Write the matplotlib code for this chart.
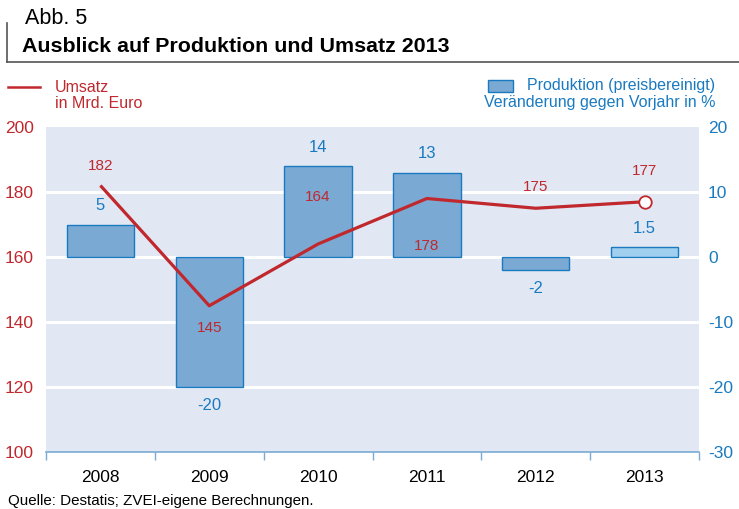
import matplotlib
matplotlib.use("Agg")
import matplotlib.pyplot as plt
from matplotlib.lines import Line2D
from matplotlib.patches import Rectangle

plt.rcParams['font.family'] = ['Liberation Sans', 'DejaVu Sans']

years = ["2008", "2009", "2010", "2011", "2012", "2013"]
umsatz = [182, 145, 164, 178, 175, 177]
produktion = [5, -20, 14, 13, -2, 1.5]
umsatz_labels = ["182", "145", "164", "178", "175", "177"]
prod_labels = ["5", "-20", "14", "13", "-2", "1.5"]
left_ticks = [100, 120, 140, 160, 180, 200]
right_ticks = [-30, -20, -10, 0, 10, 20]

RED = "#c0282d"
BLUE = "#1a7ac0"
BAR = "#7aaad4"
BAR_LIGHT = "#a0cfef"
BG = "#e1e8f4"

fig = plt.figure(figsize=(7.39, 5.09), dpi=100)
ax = fig.add_axes([46/739, 1-452/509, (699-46)/739, (452-127)/509])
ax.set_facecolor(BG)
ax2 = ax.twinx()

x = list(range(len(years)))

# right axis: bars
ax2.set_ylim(-30, 20)
for i, v in enumerate(produktion):
    col = BAR_LIGHT if i == len(produktion) - 1 else BAR
    ax2.bar(i, v, width=0.62, bottom=0, color=col, edgecolor=BLUE, linewidth=1.0, zorder=3)
for yv in [-20, -10, 0, 10]:
    ax2.axhline(yv, color="white", lw=2.2, zorder=1)

for i, (v, lab) in enumerate(zip(produktion, prod_labels)):
    if v >= 0:
        ax2.annotate(lab, (i, v), xytext=(0, 8), textcoords="offset points",
                     ha="center", va="bottom", color=BLUE, fontsize=12)
    else:
        ax2.annotate(lab, (i, v), xytext=(0, -8), textcoords="offset points",
                     ha="center", va="top", color=BLUE, fontsize=12)

ax3 = ax2.twinx()
ax3.set_ylim(100, 200)
ax3.axis("off")
ax3.plot(x, umsatz, color=RED, lw=2.3, zorder=5, solid_capstyle="butt")
ax3.plot(x[-1], umsatz[-1], marker="o", ms=9, mfc="white", mec=RED, mew=1.3, zorder=6)

offsets = [(0, 14), (0, -16), (0, 34), (0, -34), (0, 15), (0, 22)]
for i, (v, lab) in enumerate(zip(umsatz, umsatz_labels)):
    dx, dy = offsets[i]
    ax3.annotate(lab, (i, v), xytext=(dx, dy), textcoords="offset points",
                 ha="center", va="center", color=RED, fontsize=11)

ax.set_ylim(100, 200)
for a in (ax, ax2, ax3):
    a.set_xlim(-0.5, 5.5)

ax.set_yticks(left_ticks)
ax.set_yticklabels([str(t) for t in left_ticks], color=RED, fontsize=12.5)
ax2.yaxis.tick_right()
ax2.yaxis.set_label_position("right")
ax2.set_yticks(right_ticks)
ax2.set_yticklabels([str(t) for t in right_ticks], color=BLUE, fontsize=12.5)
ax.tick_params(axis="y", length=0, pad=9)
ax2.tick_params(axis="y", length=0, pad=6.5)

ax.set_xticks(x)
ax.set_xticklabels(years, fontsize=12.5)
ax.set_xticks([i + 0.5 for i in range(-1, 6)], minor=True)
ax.tick_params(axis="x", which="major", length=0, pad=13)
ax.tick_params(axis="x", which="minor", length=6, color=BAR, width=1)

for a in (ax, ax2):
    for s in ["top", "left", "right", "bottom"]:
        a.spines[s].set_visible(False)
ax.spines["bottom"].set_visible(True)
ax.spines["bottom"].set_color(BAR)
ax.spines["bottom"].set_linewidth(1.2)

# title block
fig.text(25/739, 1-18/509, "Abb. 5", fontsize=15.5, va="center", ha="left")
fig.text(22/739, 1-46/509, "Ausblick auf Produktion und Umsatz 2013", fontsize=15.4,
         fontweight="bold", va="center", ha="left")
fig.add_artist(Line2D([7/739, 7/739], [1-23/509, 1-62/509], color="#555555", lw=1.2))
fig.add_artist(Line2D([7/739, 1.0], [1-62/509, 1-62/509], color="#555555", lw=1.2))

# legend
fig.add_artist(Line2D([8/739, 40/739], [1-87/509, 1-87/509], color=RED, lw=1.8))
fig.text(55/739, 1-87/509, "Umsatz", color=RED, fontsize=11.5, va="center", ha="left")
fig.text(55/739, 1-104/509, "in Mrd. Euro", color=RED, fontsize=11.5, va="center", ha="left")
fig.add_artist(Rectangle((488/739, 1-92/509), 25/739, 12/509, facecolor=BAR,
                         edgecolor=BLUE, lw=1.0, transform=fig.transFigure))
fig.text(715/739, 1-86/509, "Produktion (preisbereinigt)", color=BLUE, fontsize=11.5,
         va="center", ha="right")
fig.text(715/739, 1-103/509, "Veränderung gegen Vorjahr in %", color=BLUE, fontsize=11.5,
         va="center", ha="right")

fig.text(8/739, 1-501/509, "Quelle: Destatis; ZVEI-eigene Berechnungen.", fontsize=10.9,
         va="center", ha="left")

fig.savefig("out.png", dpi=100)
